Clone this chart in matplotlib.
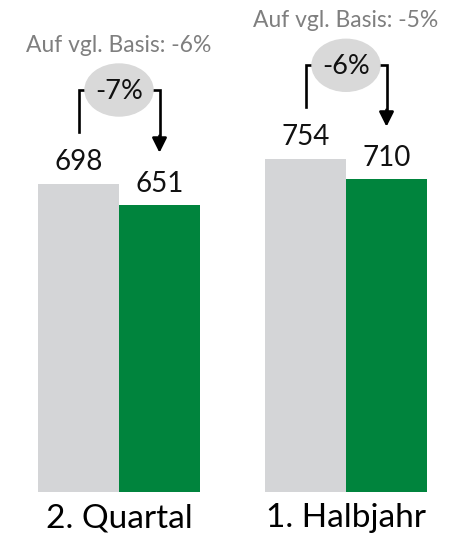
import matplotlib
matplotlib.use("Agg")
import matplotlib.pyplot as plt
from matplotlib.patches import Ellipse

categories = ["2. Quartal", "1. Halbjahr"]
prev_values = [698, 754]
curr_values = [651, 710]
changes = ["-7%", "-6%"]
basis_notes = ["Auf vgl. Basis: -6%", "Auf vgl. Basis: -5%"]

GRAY = "#d4d5d7"
GREEN = "#00843d"
BUBBLE = "#d9d9d9"
NOTE = "#7f7f7f"

plt.rcParams["font.family"] = ["Lato", "DejaVu Sans"]

fig = plt.figure(figsize=(4.67, 5.46), dpi=100)
ax = fig.add_axes([0, 54 / 546, 1, 492 / 546])

px = 1115 / 492  # data units per pixel (vertical)
w = 81 / 227
ax.set_xlim(-119 / 227, 348 / 227)
ax.set_ylim(0, 1115)
ax.axis("off")

for i, cat in enumerate(categories):
    xp = i - w / 2
    xc = i + w / 2
    ax.bar(xp, prev_values[i], width=w, color=GRAY)
    ax.bar(xc, curr_values[i], width=w, color=GREEN)

    ax.text(xp, prev_values[i] + 14 * px, str(prev_values[i]), ha="center",
            va="baseline", fontsize=20, color="#111111")
    ax.text(xc, curr_values[i] + 13 * px, str(curr_values[i]), ha="center",
            va="baseline", fontsize=20, color="#111111")

    # bracket with arrow
    top = prev_values[i] + 94 * px
    left_bottom = prev_values[i] + 52 * px
    tip = curr_values[i] + 52 * px
    ax.plot([xp, xp, xc, xc], [left_bottom, top, top, tip + 14 * px],
            color="black", lw=1.9, solid_joinstyle="miter", zorder=3)
    ax.annotate("", xy=(xc, tip), xytext=(xc, tip + 17 * px),
                arrowprops=dict(arrowstyle="-|>", color="black", lw=1.9,
                                mutation_scale=22, shrinkA=0, shrinkB=0),
                zorder=3)
    ax.add_patch(Ellipse((i, top), 68 / 227, 52 * px, color=BUBBLE, zorder=4))
    ax.text(i, top - 1 * px, changes[i], ha="center", va="center", fontsize=19.5,
            color="#111111", zorder=5)

    ax.text(i, prev_values[i] + 139 * px, basis_notes[i], ha="center",
            va="center", fontsize=16.5, color=NOTE)

    ax.text(i, -26 * px, cat, ha="center", va="center", fontsize=24,
            color="black", clip_on=False)

fig.savefig("out.png", dpi=100)
